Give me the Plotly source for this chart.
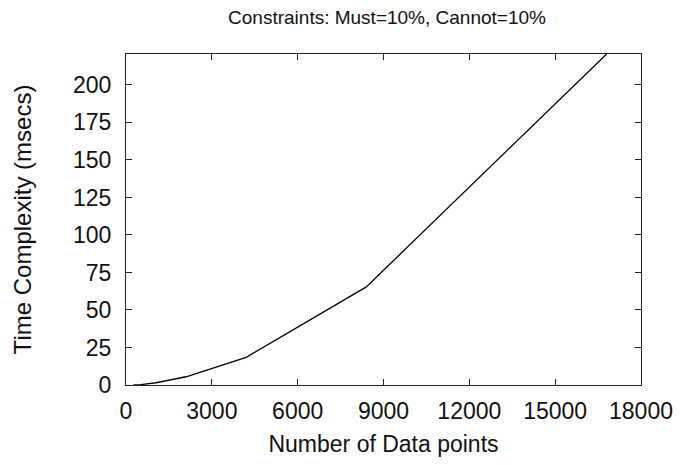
import plotly.graph_objects as go

# Runtime measurements
n_points = [262, 525, 1050, 2100, 4200, 8400, 16800]
time_ms = [0.0, 0.3, 1.5, 5.5, 18.4, 65.4, 220.6]

x_ticks = [0, 3000, 6000, 9000, 12000, 15000, 18000]
y_ticks = [0, 25, 50, 75, 100, 125, 150, 175, 200]

FONT = "Liberation Sans, Arial, sans-serif"

fig = go.Figure()
fig.add_trace(go.Scatter(
    x=n_points, y=time_ms, mode="lines",
    line=dict(color="black", width=1.3),
    showlegend=False, cliponaxis=True,
))

axis_common = dict(
    showline=True, linecolor="#222222", linewidth=1, mirror="allticks",
    ticks="inside", ticklen=6, tickcolor="#222222", tickwidth=1,
    showgrid=False, zeroline=False,
    tickfont=dict(family=FONT, size=23, color="#111111"),
)

fig.update_layout(
    width=685, height=465,
    margin=dict(l=126, r=42, t=54, b=79),
    paper_bgcolor="white", plot_bgcolor="white",
    title=dict(text="Constraints: Must=10%, Cannot=10%",
               font=dict(family=FONT, size=19, color="#111111"),
               x=0.565, xanchor="center", y=0.962, yanchor="middle"),
    xaxis=dict(range=[0, 18000], tickvals=x_ticks,
               ticktext=[str(v) for v in x_ticks],
               ticklabelstandoff=5,
               title=dict(text="Number of Data points", standoff=13,
                          font=dict(family=FONT, size=23, color="#111111")),
               **axis_common),
    yaxis=dict(range=[0, 220.6], tickvals=y_ticks,
               ticktext=[str(v) for v in y_ticks],
               ticklabelstandoff=9,
               title=dict(text="Time Complexity (msecs)", standoff=34,
                          font=dict(family=FONT, size=24, color="#111111")),
               **axis_common),
)

fig.write_html("out.html")
